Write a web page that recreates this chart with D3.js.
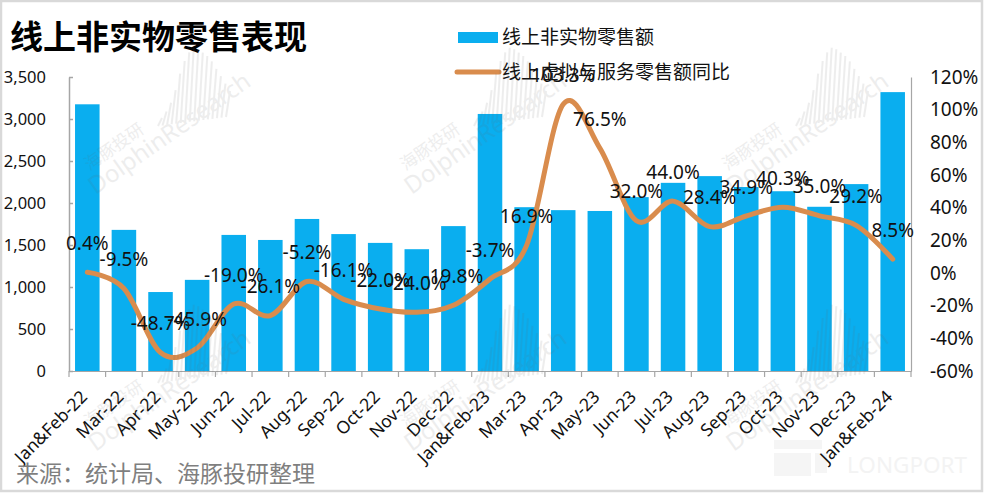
<!DOCTYPE html>
<html>
<head>
<meta charset="utf-8">
<script src="https://cdn.jsdelivr.net/npm/d3@7"></script>
<style>
  html, body { margin: 0; padding: 0; background: #fff; }
  svg { display: block; }
  text { font-family: "Noto Sans", "Noto Sans CJK SC", sans-serif; fill: #111; }
</style>
</head>
<body>
<script>
// data
const categories = ["Jan&Feb-22", "Mar-22", "Apr-22", "May-22", "Jun-22", "Jul-22", "Aug-22", "Sep-22", "Oct-22", "Nov-22", "Dec-22",
  "Jan&Feb-23", "Mar-23", "Apr-23", "May-23", "Jun-23", "Jul-23", "Aug-23", "Sep-23", "Oct-23", "Nov-23", "Dec-23", "Jan&Feb-24"]
const salesValues = [3175, 1680, 940, 1085, 1620, 1560, 1810, 1630, 1525, 1450, 1725,
  3060, 1950, 1915, 1905, 2070, 2240, 2320, 2190, 2140, 1955, 2225, 3320]
const yoyValues = [0.4, -9.5, -48.7, -45.9, -19.0, -26.1, -5.2, -16.1, -22.0, -24.0, -19.8,
  -3.7, 16.9, 103.3, 76.5, 32.0, 44.0, 28.4, 34.9, 40.3, 35.0, 29.2, 8.5]
const leftTicks = [0, 500, 1000, 1500, 2000, 2500, 3000, 3500]
const rightTicks = [-60, -40, -20, 0, 20, 40, 60, 80, 100, 120]

const title = "线上非实物零售表现"
const source = "来源：统计局、海豚投研整理"
const barName = "线上非实物零售额"
const lineName = "线上虚拟与服务零售额同比"

const dimensions = {
  width: 984,
  height: 493,
  margin: { top: 77, right: 73, bottom: 122, left: 69 },
}
dimensions.boundedWidth = dimensions.width - dimensions.margin.left - dimensions.margin.right
dimensions.boundedHeight = dimensions.height - dimensions.margin.top - dimensions.margin.bottom

const barColor = "#0aaeef"
const lineColor = "#d98c4d"
const axisColor = "#a6a6a6"

const wrapper = d3.select("body")
  .append("svg")
    .attr("width", dimensions.width)
    .attr("height", dimensions.height)

wrapper.append("rect")
  .attr("x", 1).attr("y", 1)
  .attr("width", dimensions.width - 3).attr("height", dimensions.height - 3)
  .attr("fill", "#fff").attr("stroke", "#d9d9d9").attr("stroke-width", 2.5)

// logo sits under the axis labels
const logoBoxes = [[774, 453, 37, 23], [815, 453, 12, 20], [774, 440, 48, 9]]
wrapper.selectAll(".logo")
  .data(logoBoxes)
  .enter().append("rect")
    .attr("class", "logo")
    .attr("x", d => d[0]).attr("y", d => d[1])
    .attr("width", d => d[2]).attr("height", d => d[3])
    .attr("fill", "#f5f5f5")
wrapper.append("text")
  .attr("x", 847).attr("y", 473)
  .style("font-size", "22.5px")
  .style("fill", "#f3f3f3")
  .text("LONGPORT")

const bounds = wrapper.append("g")
  .attr("transform", `translate(${dimensions.margin.left}, ${dimensions.margin.top})`)

// scales
const xScale = d3.scaleBand()
  .domain(categories)
  .range([0, dimensions.boundedWidth])
  .paddingInner(0.33)
  .paddingOuter(0.165)

const yScale = d3.scaleLinear()
  .domain([0, 3500])
  .range([dimensions.boundedHeight, 0])

const yRightScale = d3.scaleLinear()
  .domain([-60, 120])
  .range([dimensions.boundedHeight, 0])

const xCenter = d => xScale(d) + xScale.bandwidth() / 2

// bars
bounds.selectAll(".bar")
  .data(categories)
  .enter().append("rect")
    .attr("class", "bar")
    .attr("x", d => xScale(d))
    .attr("y", (d, i) => yScale(salesValues[i]))
    .attr("width", xScale.bandwidth())
    .attr("height", (d, i) => dimensions.boundedHeight - yScale(salesValues[i]))
    .attr("fill", barColor)

// axes
const leftAxis = bounds.append("g")
  .call(d3.axisLeft(yScale).tickValues(leftTicks).tickSize(-4).tickSizeOuter(0).tickFormat(d3.format(",")))
leftAxis.selectAll("text").style("font-size", "16.5px").attr("x", -23)
leftAxis.selectAll("line, path").attr("stroke", axisColor).attr("stroke-width", 1.5)

const rightAxis = bounds.append("g")
  .attr("transform", `translate(${dimensions.boundedWidth}, 0)`)
  .call(d3.axisRight(yRightScale).tickValues(rightTicks).tickSize(0).tickPadding(19).tickFormat(d => d + "%"))
rightAxis.selectAll("text").style("font-size", "19px")
rightAxis.selectAll("path").attr("stroke", axisColor).attr("stroke-width", 1.2)

const bottomAxis = bounds.append("g")
  .attr("transform", `translate(0, ${dimensions.boundedHeight})`)
  .call(d3.axisBottom(xScale).tickSize(0).tickSizeOuter(0))
bottomAxis.selectAll("path").attr("stroke", axisColor).attr("stroke-width", 1.2)
bottomAxis.selectAll("text")
  .style("font-size", "17.5px")
  .attr("text-anchor", "end")
  .attr("dy", 0)
  .attr("y", 0)
  .attr("transform", "translate(1, 27) rotate(-45)")

// tick marks sit between the categories
bounds.append("g")
  .selectAll("line")
  .data(d3.range(categories.length + 1))
  .enter().append("line")
    .attr("x1", i => i * xScale.step())
    .attr("x2", i => i * xScale.step())
    .attr("y1", dimensions.boundedHeight)
    .attr("y2", dimensions.boundedHeight + 6)
    .attr("stroke", axisColor)
    .attr("stroke-width", 1.2)

// smooth line
const lineGenerator = d3.line()
  .x((d, i) => xCenter(categories[i]))
  .y(d => yRightScale(d))
  .curve(d3.curveCatmullRom.alpha(0))

bounds.append("path")
  .attr("d", lineGenerator(yoyValues))
  .attr("fill", "none")
  .attr("stroke", lineColor)
  .attr("stroke-width", 5)
  .attr("stroke-linecap", "round")

// title and source
wrapper.append("text")
  .attr("x", 10).attr("y", 49)
  .style("font-size", "33px").style("font-weight", 700)
  .style("fill", "#000")
  .text(title)

wrapper.append("text")
  .attr("x", 16).attr("y", 482)
  .style("font-size", "23px")
  .style("fill", "#7f7f7f")
  .text(source)

// legend
const legend = wrapper.append("g")
legend.append("rect")
  .attr("x", 458).attr("y", 32).attr("width", 40).attr("height", 11)
  .attr("fill", barColor)
legend.append("text")
  .attr("x", 502).attr("y", 37).attr("dy", "0.35em")
  .style("font-size", "19px")
  .text(barName)
legend.append("line")
  .attr("x1", 457).attr("x2", 499).attr("y1", 72).attr("y2", 72)
  .attr("stroke", lineColor).attr("stroke-width", 5).attr("stroke-linecap", "round")
legend.append("text")
  .attr("x", 502).attr("y", 72).attr("dy", "0.35em")
  .style("font-size", "19px")
  .text(lineName)

// point labels go over the legend
const labels = wrapper.append("g")
  .attr("transform", `translate(${dimensions.margin.left}, ${dimensions.margin.top})`)
labels.selectAll(".point-label")
  .data(yoyValues)
  .enter().append("text")
    .attr("class", "point-label")
    .attr("x", (d, i) => xCenter(categories[i]))
    .attr("y", d => yRightScale(d) - 29)
    .attr("dy", "0.35em")
    .attr("text-anchor", "middle")
    .style("font-size", "19px")
    .text(d => d.toFixed(1) + "%")

// watermarks
const watermarks = [[174, 140], [490, 140], [812, 140], [174, 397], [490, 397], [812, 397]]
const waveHeights = [8, 14, 22, 34, 50, 62, 70, 74, 72, 68, 64, 58, 50, 42, 34, 26]
const marks = wrapper.append("g").style("pointer-events", "none")
watermarks.forEach(([x, y]) => {
  const mark = marks.append("g")
    .attr("transform", `translate(${x}, ${y}) rotate(-35)`)
    .attr("opacity", 0.11)
  mark.append("text")
    .attr("text-anchor", "middle")
    .style("font-size", "24px")
    .style("fill", "#666")
    .text("DolphinResearch")
  mark.append("text")
    .attr("x", -53).attr("y", -23)
    .attr("text-anchor", "middle")
    .style("font-size", "17px")
    .style("fill", "#666")
    .text("海豚投研")
  // the little sound wave above the name
  const wave = d3.scaleLinear().domain([0, waveHeights.length - 1]).range([0, 68])
  mark.append("g")
    .attr("transform", "rotate(35) translate(-16, -14)")
    .selectAll("line")
    .data(waveHeights)
    .enter().append("line")
      .attr("x1", (d, i) => wave(i))
      .attr("x2", (d, i) => wave(i) + 4)
      .attr("y1", (d, i) => -i * 0.6)
      .attr("y2", (d, i) => -i * 0.6 - d)
      .attr("stroke", "#666")
      .attr("stroke-width", 2)
})
</script>
</body>
</html>
